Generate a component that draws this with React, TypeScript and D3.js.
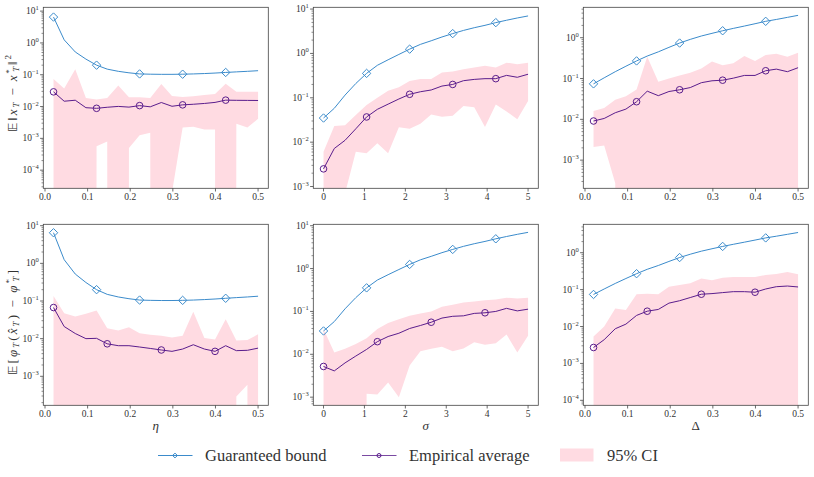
import React from 'react';
import * as d3 from 'd3';

// ---------- data ----------
const etaGrid = [0.02, 0.045, 0.071, 0.096, 0.121, 0.146, 0.172, 0.197, 0.222, 0.247, 0.273, 0.298, 0.323, 0.348, 0.374, 0.399, 0.424, 0.449, 0.475, 0.5];
const sigmaGrid = [0, 0.263, 0.526, 0.789, 1.053, 1.316, 1.579, 1.842, 2.105, 2.368, 2.632, 2.895, 3.158, 3.421, 3.684, 3.947, 4.211, 4.474, 4.737, 5];
const deltaGrid = [0.02, 0.045, 0.071, 0.096, 0.121, 0.146, 0.172, 0.197, 0.222, 0.247, 0.273, 0.298, 0.323, 0.348, 0.374, 0.399, 0.424, 0.449, 0.475, 0.5];

const boundEta = [6.5, 1.25, 0.52, 0.31, 0.2, 0.15, 0.128, 0.115, 0.106, 0.104, 0.103, 0.103, 0.104, 0.106, 0.109, 0.113, 0.118, 0.123, 0.128, 0.134];
const boundSigma = [0.035, 0.058, 0.115, 0.21, 0.355, 0.54, 0.72, 0.95, 1.25, 1.6, 1.93, 2.35, 2.8, 3.3, 3.8, 4.3, 4.95, 5.6, 6.3, 7.0];
const boundDelta = [0.074, 0.104, 0.147, 0.2, 0.27, 0.355, 0.45, 0.58, 0.74, 0.91, 1.1, 1.28, 1.48, 1.69, 1.93, 2.2, 2.52, 2.8, 3.15, 3.53];

// top row: E||x_T - x_T*||^2
const distEtaMean = [0.029, 0.0147, 0.0158, 0.0092, 0.0088, 0.0095, 0.0101, 0.0096, 0.0107, 0.0098, 0.0134, 0.0102, 0.0113, 0.0118, 0.0125, 0.0135, 0.0159, 0.0157, 0.0156, 0.0155];
const distEtaUpper = [0.074, 0.037, 0.15, 0.0187, 0.0166, 0.0187, 0.0457, 0.0195, 0.0195, 0.0187, 0.051, 0.0216, 0.02, 0.021, 0.023, 0.025, 0.052, 0.029, 0.029, 0.029];
const distEtaLower = [0, 0, 0, 0, 5.6e-4, 8e-4, 0, 5e-4, 1.26e-3, 1.5e-3, 0, 2e-5, 2.2e-3, 2.3e-3, 1.9e-3, 1.9e-3, 0, 2.9e-3, 2.2e-3, 4.1e-3];

const distSigmaMean = [0.0025, 0.0072, 0.011, 0.02, 0.037, 0.055, 0.072, 0.094, 0.12, 0.137, 0.15, 0.184, 0.2, 0.243, 0.26, 0.27, 0.27, 0.32, 0.29, 0.34];
const distSigmaUpper = [0.0061, 0.023, 0.024, 0.041, 0.069, 0.1, 0.145, 0.172, 0.24, 0.265, 0.265, 0.37, 0.39, 0.44, 0.48, 0.53, 0.48, 0.62, 0.57, 0.62];
const distSigmaLower = [0, 0, 7e-4, 0.0061, 0.0056, 0.0094, 0.0056, 0.0216, 0.02, 0.026, 0.042, 0.0375, 0.0396, 0.065, 0.061, 0.022, 0.071, 0.049, 0.033, 0.085];

const distDeltaMean = [0.0091, 0.0105, 0.0145, 0.0178, 0.027, 0.049, 0.038, 0.048, 0.053, 0.06, 0.079, 0.088, 0.091, 0.102, 0.119, 0.119, 0.155, 0.17, 0.147, 0.184];
const distDeltaUpper = [0.016, 0.019, 0.03, 0.037, 0.054, 0.34, 0.083, 0.1, 0.119, 0.138, 0.177, 0.26, 0.21, 0.235, 0.355, 0.27, 0.375, 0.405, 0.34, 0.43];
const distDeltaLower = [0.0021, 0.0023, 2.7e-4, 0, 0, 0, 0, 0, 0, 0, 0, 0, 0, 0, 0, 0, 0, 0, 0, 0];

// bottom row: E[phi_T(x_T) - phi_T*]
const gapEtaMean = [0.067, 0.021, 0.0137, 0.01, 0.0102, 0.0073, 0.0065, 0.0065, 0.006, 0.0055, 0.005, 0.0046, 0.0053, 0.0069, 0.0053, 0.0046, 0.0065, 0.0048, 0.0049, 0.0056];
const gapEtaUpper = [0.136, 0.047, 0.039, 0.046, 0.056, 0.019, 0.0165, 0.02, 0.014, 0.0126, 0.012, 0.0107, 0.012, 0.052, 0.0104, 0.0095, 0.033, 0.009, 0.0092, 0.013];
const gapEtaLower = [0, 0, 0, 0, 0, 0, 0, 0, 0, 0, 0, 0, 0, 0, 0, 0, 0, 2.9e-4, 6e-4, 0];

const gapSigmaMean = [0.0052, 0.0041, 0.0063, 0.0091, 0.013, 0.0197, 0.026, 0.031, 0.04, 0.047, 0.056, 0.07, 0.077, 0.079, 0.09, 0.093, 0.1, 0.118, 0.103, 0.113];
const gapSigmaUpper = [0.039, 0.011, 0.0134, 0.0175, 0.0236, 0.039, 0.054, 0.066, 0.079, 0.09, 0.1, 0.128, 0.143, 0.162, 0.17, 0.183, 0.19, 0.21, 0.2, 0.21];
const gapSigmaLower = [0, 0, 0, 0, 1.2e-3, 1.15e-3, 2.2e-3, 1e-3, 0.0055, 0.0117, 0.0134, 0.015, 0.0117, 0.0137, 0.019, 0.0167, 0.018, 0.029, 0.011, 0.027];

const gapDeltaMean = [0.0027, 0.0044, 0.0087, 0.0116, 0.02, 0.026, 0.029, 0.043, 0.05, 0.061, 0.075, 0.078, 0.083, 0.088, 0.088, 0.085, 0.104, 0.12, 0.125, 0.118];
const gapDeltaUpper = [0.0054, 0.01, 0.031, 0.028, 0.075, 0.077, 0.075, 0.12, 0.134, 0.148, 0.2, 0.18, 0.21, 0.22, 0.22, 0.22, 0.25, 0.265, 0.3, 0.26];
const gapDeltaLower = [0, 0, 0, 0, 0, 0, 0, 0, 0, 0, 0, 0, 0, 0, 0, 0, 0, 0, 0, 0];

const etaTicks = [0, 0.1, 0.2, 0.3, 0.4, 0.5];
const sigmaTicks = [0, 1, 2, 3, 4, 5];
const deltaTicks = [0, 0.1, 0.2, 0.3, 0.4, 0.5];

const legendLabels = ['Guaranteed bound', 'Empirical average', '95% CI'];

// ---------- styles ----------
const BLUE = '#3b8bcb';
const PURPLE = '#5a1d8c';
const PINK = '#ffdbe2';
const TEXT = '#333';
const SERIF = "Liberation Serif, Times New Roman, Times, DejaVu Serif, serif";

const W = 814;
const H = 477;
const colLeft = [43.3, 313.3, 583.3];
const rowTop = [7.3, 224.3];
const PW = 225;
const PH = 181;

type PanelSpec = {
  xs: number[];
  bound: number[];
  mean: number[];
  upper: number[];
  lower: number[];
  xDomain: [number, number];
  xTicks: number[];
  xFmt: (v: number) => string;
  yDomainExp: [number, number];
  meanEvery: number;
};

const fmt1 = (v: number) => v.toFixed(1);
const fmt0 = (v: number) => String(v);

const panels: PanelSpec[][] = [
  [
    { xs: etaGrid, bound: boundEta, mean: distEtaMean, upper: distEtaUpper, lower: distEtaLower, xDomain: [-0.004, 0.524], xTicks: etaTicks, xFmt: fmt1, yDomainExp: [-4.57, 1.12], meanEvery: 4 },
    { xs: sigmaGrid, bound: boundSigma, mean: distSigmaMean, upper: distSigmaUpper, lower: distSigmaLower, xDomain: [-0.25, 5.25], xTicks: sigmaTicks, xFmt: fmt0, yDomainExp: [-3.04, 1.04], meanEvery: 4 },
    { xs: deltaGrid, bound: boundDelta, mean: distDeltaMean, upper: distDeltaUpper, lower: distDeltaLower, xDomain: [-0.004, 0.524], xTicks: deltaTicks, xFmt: fmt1, yDomainExp: [-3.69, 0.745], meanEvery: 4 },
  ],
  [
    { xs: etaGrid, bound: boundEta, mean: gapEtaMean, upper: gapEtaUpper, lower: gapEtaLower, xDomain: [-0.004, 0.524], xTicks: etaTicks, xFmt: fmt1, yDomainExp: [-3.77, 1.037], meanEvery: 5 },
    { xs: sigmaGrid, bound: boundSigma, mean: gapSigmaMean, upper: gapSigmaUpper, lower: gapSigmaLower, xDomain: [-0.25, 5.25], xTicks: sigmaTicks, xFmt: fmt0, yDomainExp: [-3.19, 1.033], meanEvery: 5 },
    { xs: deltaGrid, bound: boundDelta, mean: gapDeltaMean, upper: gapDeltaUpper, lower: gapDeltaLower, xDomain: [-0.004, 0.524], xTicks: deltaTicks, xFmt: fmt1, yDomainExp: [-4.135, 0.77], meanEvery: 5 },
  ],
];

const xLabels = ['η', 'σ', 'Δ'];
const xLabelItalic = [true, true, false];

const diamond = (r: number) => `M0,${-r}L${r},0L0,${r}L${-r},0Z`;

function Panel({ spec, left, top, id, showXLabel, xLabel, italic }: { spec: PanelSpec; left: number; top: number; id: string; showXLabel: boolean; xLabel: string; italic: boolean }) {
  const x = d3.scaleLinear().domain(spec.xDomain).range([0, PW]);
  const y = d3.scaleLog().domain([Math.pow(10, spec.yDomainExp[0]), Math.pow(10, spec.yDomainExp[1])]).range([PH, 0]);
  const safe = (v: number) => (v > 0 ? v : 1e-300);
  const idx = spec.xs.map((_, i) => i);

  const area = d3.area<number>()
    .x((i) => x(spec.xs[i]))
    .y0((i) => y(safe(spec.lower[i])))
    .y1((i) => y(safe(spec.upper[i])));
  const line = (vals: number[]) => d3.line<number>().x((i) => x(spec.xs[i])).y((i) => y(vals[i]))(idx) || '';

  const e0 = Math.ceil(spec.yDomainExp[0]);
  const e1 = Math.floor(spec.yDomainExp[1]);
  const majors: number[] = d3.range(e0, e1 + 1);
  const minors: number[] = [];
  for (let e = Math.floor(spec.yDomainExp[0]); e <= Math.ceil(spec.yDomainExp[1]); e++) {
    for (let k = 2; k <= 9; k++) {
      const v = k * Math.pow(10, e);
      const lv = Math.log10(v);
      if (lv >= spec.yDomainExp[0] && lv <= spec.yDomainExp[1]) minors.push(v);
    }
  }

  return (
    <g transform={`translate(${left},${top})`}>
      <defs>
        <clipPath id={id}>
          <rect x={0} y={0} width={PW} height={PH} />
        </clipPath>
      </defs>
      <g clipPath={`url(#${id})`}>
        <path d={area(idx) || ''} fill={PINK} stroke="none" />
        <path d={line(spec.bound)} fill="none" stroke={BLUE} strokeWidth={1} />
        <path d={line(spec.mean)} fill="none" stroke={PURPLE} strokeWidth={1} />
      </g>
      {idx.filter((i) => i % 4 === 0).map((i) => (
        <path key={`b${i}`} d={diamond(4.2)} transform={`translate(${x(spec.xs[i])},${y(spec.bound[i])})`} fill="none" stroke={BLUE} strokeWidth={1} />
      ))}
      {idx.filter((i) => i % spec.meanEvery === 0).map((i) => (
        <circle key={`m${i}`} cx={x(spec.xs[i])} cy={y(spec.mean[i])} r={3.3} fill="none" stroke={PURPLE} strokeWidth={1} />
      ))}
      <rect x={0} y={0} width={PW} height={PH} fill="none" stroke="#444" strokeWidth={0.8} />
      {spec.xTicks.map((t) => (
        <g key={`xt${t}`} transform={`translate(${x(t)},${PH})`}>
          <line y1={0} y2={3.2} stroke="#444" strokeWidth={0.8} />
          <text y={12.2} textAnchor="middle" fontSize={9.5} style={{ fontFamily: SERIF }} fill={TEXT}>{spec.xFmt(t)}</text>
        </g>
      ))}
      {minors.map((v, i) => (
        <line key={`ym${i}`} x1={-1.8} x2={0} y1={y(v)} y2={y(v)} stroke="#444" strokeWidth={0.6} />
      ))}
      {majors.map((e) => (
        <g key={`yt${e}`} transform={`translate(0,${y(Math.pow(10, e))})`}>
          <line x1={-3.2} x2={0} stroke="#444" strokeWidth={0.8} />
          <text x={-4.5} y={3} textAnchor="end" fontSize={9.5} style={{ fontFamily: SERIF }} fill={TEXT}>
            10<tspan dy={-4} fontSize={6.5}>{e < 0 ? `−${-e}` : `${e}`}</tspan>
          </text>
        </g>
      ))}
      {showXLabel && (
        <text x={PW / 2} y={PH + 25} textAnchor="middle" fontSize={13} fontStyle={italic ? 'italic' : 'normal'} style={{ fontFamily: SERIF }} fill={TEXT}>{xLabel}</text>
      )}
    </g>
  );
}

export default function App() {
  return (
    <svg width={W} height={H} viewBox={`0 0 ${W} ${H}`} style={{ position: 'absolute', left: 0, top: 0, background: '#fff' }}>
      {panels.map((row, r) =>
        row.map((spec, c) => (
          <Panel key={`${r}-${c}`} spec={spec} left={colLeft[c]} top={rowTop[r]} id={`clip${r}${c}`} showXLabel={r === 1} xLabel={xLabels[c]} italic={xLabelItalic[c]} />
        ))
      )}
      <text transform="translate(16.5,132) rotate(-90)" textAnchor="start" fontSize={13} textLength={77} lengthAdjust="spacing" style={{ fontFamily: SERIF }} fill={TEXT}>
        <tspan style={{ fontFamily: 'DejaVu Sans' }}>𝔼</tspan>‖<tspan fontStyle="italic">x</tspan><tspan fontSize={9} dy={2.5} fontStyle="italic">T</tspan><tspan dy={-2.5}> − </tspan><tspan fontStyle="italic">x</tspan><tspan fontSize={9} dy={-5}>*</tspan><tspan fontSize={9} dx={-4.5} dy={7.5} fontStyle="italic">T</tspan><tspan dy={-2.5}>‖</tspan><tspan fontSize={9} dy={-5.5}>2</tspan>
      </text>
      <text transform="translate(16.5,375) rotate(-90)" textAnchor="start" fontSize={13} textLength={105} lengthAdjust="spacing" style={{ fontFamily: SERIF }} fill={TEXT}>
        <tspan style={{ fontFamily: 'DejaVu Sans' }}>𝔼</tspan>[<tspan fontStyle="italic">φ</tspan><tspan fontSize={9} dy={2.5} fontStyle="italic">T</tspan><tspan dy={-2.5}>(</tspan><tspan fontStyle="italic">x̂</tspan><tspan fontSize={9} dy={2.5} fontStyle="italic">T</tspan><tspan dy={-2.5}>) − </tspan><tspan fontStyle="italic">φ</tspan><tspan fontSize={9} dy={-5}>*</tspan><tspan fontSize={9} dx={-4.5} dy={7.5} fontStyle="italic">T</tspan><tspan dy={-2.5}>]</tspan>
      </text>
      <g>
        <line x1={158} x2={192.5} y1={455.5} y2={455.5} stroke={BLUE} strokeWidth={1} />
        <path d={diamond(2.4)} transform="translate(175,455.5)" fill="none" stroke={BLUE} strokeWidth={1} />
        <text x={205} y={461} fontSize={16.5} style={{ fontFamily: SERIF }} fill={TEXT}>{legendLabels[0]}</text>
        <line x1={362} x2={396.5} y1={455.5} y2={455.5} stroke={PURPLE} strokeWidth={1} opacity={0.8} />
        <circle cx={379} cy={455.5} r={2} fill="none" stroke={PURPLE} strokeWidth={1} />
        <text x={409} y={461} fontSize={16.5} style={{ fontFamily: SERIF }} fill={TEXT}>{legendLabels[1]}</text>
        <rect x={560} y={448.5} width={33.5} height={13} fill={PINK} />
        <text x={607} y={461} fontSize={16.5} style={{ fontFamily: SERIF }} fill={TEXT}>{legendLabels[2]}</text>
      </g>
    </svg>
  );
}
